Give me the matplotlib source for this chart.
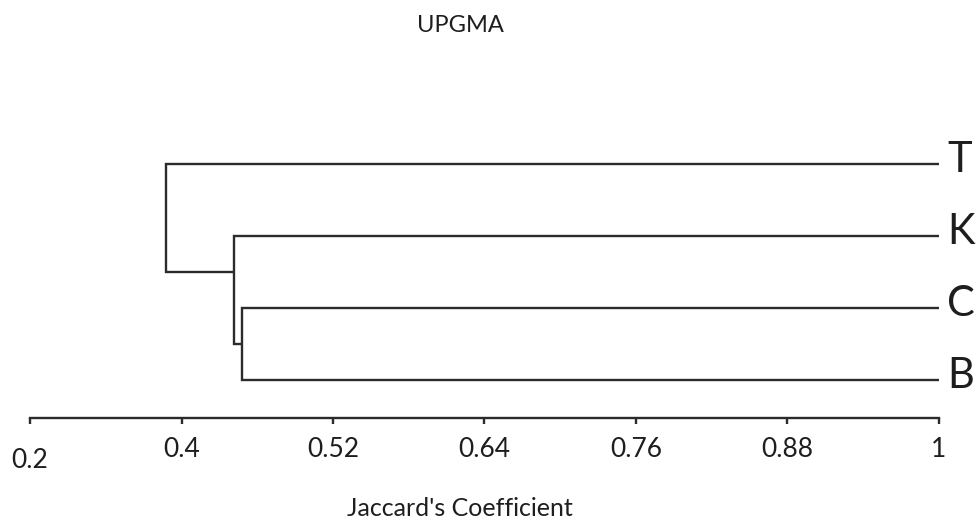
import matplotlib
matplotlib.use("Agg")
import matplotlib.pyplot as plt
from matplotlib.transforms import ScaledTranslation

plt.rcParams['font.family'] = ['Lato', 'DejaVu Sans']

# ---- data ----
leaves = ["T", "K", "C", "B"]                 # top to bottom
leaf_y = {"T": 3, "K": 2, "C": 1, "B": 0}
# merges: (child a, child b, new cluster name, Jaccard level)
merges = [("C", "B", "CB", 0.448),
          ("K", "CB", "KCB", 0.4416),
          ("T", "KCB", "ROOT", 0.3875)]
tick_values = [0.28, 0.40, 0.52, 0.64, 0.76, 0.88, 1.0]
tick_labels = ["0.2", "0.4", "0.52", "0.64", "0.76", "0.88", "1"]
title = "UPGMA"
xlabel = "Jaccard's Coefficient"

col = "#2b2b2b"
tcol = "#1e1e1e"
W, H = 976, 521
fig = plt.figure(figsize=(W / 100, H / 100), dpi=100)
ax = fig.add_axes([30 / W, 103 / H, 909 / W, 288 / H])
ax.set_xlim(0.28, 1.0)
ax.set_ylim(-0.528, 3.472)

# node bookkeeping
node_x = {l: 1.0 for l in leaves}
node_y = {l: float(leaf_y[l]) for l in leaves}
node_top = {l: float(leaf_y[l]) for l in leaves}
for a, b, name, h in merges:
    xa, ya = node_x[a], node_y[a]
    xb, yb = node_x[b], node_y[b]
    ax.plot([xa, h, h, xb], [ya, ya, yb, yb], color=col, lw=1.7,
            solid_joinstyle='miter', solid_capstyle='butt')
    node_x[name] = h
    node_y[name] = (ya + node_top[b]) / 2
    node_top[name] = max(node_top[a], node_top[b])

for l in leaves:
    ax.annotate(l, (1.0, leaf_y[l]), xytext=(6, -5.5), textcoords='offset points',
                va='baseline', ha='left', fontsize=30, color=tcol,
                annotation_clip=False)

for s in ["top", "left", "right"]:
    ax.spines[s].set_visible(False)
ax.spines["bottom"].set_color(col)
ax.spines["bottom"].set_linewidth(1.7)
ax.set_yticks([])
ax.set_xticks(tick_values)
ax.set_xticklabels(tick_labels, fontsize=19, color=tcol)
ax.tick_params(axis='x', direction='out', length=4.5, width=1.7, color=col, pad=9)
first = ax.get_xticklabels()[0]
first.set_transform(first.get_transform() + ScaledTranslation(0, -11 / 100, fig.dpi_scale_trans))

fig.text(460 / W, 1 - 26 / H, title, ha='center', va='center', fontsize=17, color=tcol)
fig.text(460 / W, 1 - 508 / H, xlabel, ha='center', va='center', fontsize=18, color=tcol)

fig.savefig("out.png", dpi=100, facecolor="white")
